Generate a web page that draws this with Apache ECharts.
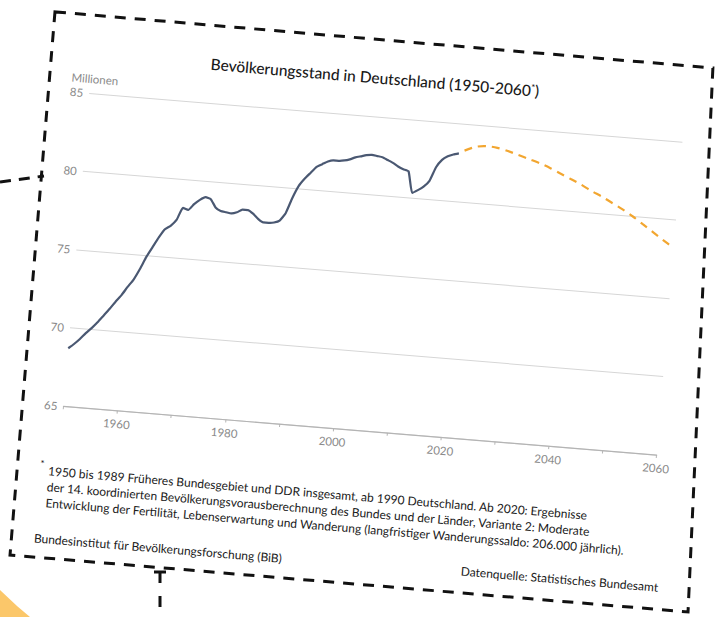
<!DOCTYPE html>
<html>
<head>
<meta charset="utf-8">
<script src="https://cdn.jsdelivr.net/npm/echarts@6/dist/echarts.min.js"></script>
<style>
  html, body { margin: 0; padding: 0; background: #ffffff; overflow: hidden; }
  #deco { position: absolute; left: 0; top: 0; width: 723px; height: 617px; }
  #wrap { position: absolute; left: 0; top: 0; width: 723px; height: 617px;
          transform: rotate(4.7deg); transform-origin: 361.5px 308.5px; }
</style>
</head>
<body>
<svg id="deco" width="723" height="617" xmlns="http://www.w3.org/2000/svg">
  <polygon points="0,590 17,606 30,617 0,617" fill="#fbc76a"/>
  <line x1="0" y1="182" x2="44" y2="176" stroke="#111" stroke-width="3" stroke-dasharray="11 8"/>
  <line x1="160" y1="572" x2="160" y2="617" stroke="#111" stroke-width="3" stroke-dasharray="11 13"/>
  <line x1="154" y1="572" x2="166" y2="572" stroke="#111" stroke-width="3"/>
</svg>
<div id="wrap"></div>
<script>
// ---- data ----
const histYears = [1950,1951,1952,1953,1954,1955,1956,1957,1958,1959,
  1960,1961,1962,1963,1964,1965,1966,1967,1968,1969,
  1970,1971,1972,1973,1974,1975,1976,1977,1978,1979,
  1980,1981,1982,1983,1984,1985,1986,1987,1988,1989,
  1990,1991,1992,1993,1994,1995,1996,1997,1998,1999,
  2000,2001,2002,2003,2004,2005,2006,2007,2008,2009,
  2010,2011,2012,2013,2014,2015,2016,2017,2018,2019];
const histValues = [68.7,69.0,69.35,69.75,70.1,70.5,70.95,71.4,71.9,72.35,
  72.9,73.4,74.1,74.9,75.55,76.2,76.75,77.0,77.4,78.2,
  78.1,78.5,78.8,79.0,78.9,78.4,78.2,78.15,78.1,78.2,
  78.4,78.4,78.2,77.9,77.7,77.7,77.75,77.9,78.4,79.4,
  80.2,80.7,81.1,81.5,81.7,81.9,82.0,82.0,82.05,82.15,
  82.3,82.4,82.5,82.55,82.5,82.45,82.3,82.15,81.95,81.8,
  81.7,80.35,80.55,80.8,81.2,82.1,82.6,82.85,83.0,83.1];
const projYears = [2020,2022,2024,2026,2028,2030,2032,2034,2036,2038,2040,
  2042,2044,2046,2048,2050,2052,2054,2056,2058,2060];
const projValues = [83.3,83.6,83.7,83.65,83.5,83.3,83.1,82.9,82.65,82.35,82.05,
  81.75,81.4,81.1,80.75,80.4,80.0,79.55,79.1,78.65,78.2];
const yTicks = [65,70,75,80,85];
const xLabelYears = [1960,1980,2000,2020,2040,2060];

const titleText = 'Bevölkerungsstand in Deutschland (1950-2060';
const unitText = 'Millionen';
const noteLines = [
  '1950 bis 1989 Früheres Bundesgebiet und DDR insgesamt, ab 1990 Deutschland. Ab 2020: Ergebnisse',
  'der 14. koordinierten Bevölkerungsvorausberechnung des Bundes und der Länder, Variante 2: Moderate',
  'Entwicklung der Fertilität, Lebenserwartung und Wanderung (langfristiger Wanderungssaldo: 206.000 jährlich).'
];
const instText = 'Bundesinstitut für Bevölkerungsforschung (BiB)';
const sourceText = 'Datenquelle: Statistisches Bundesamt';

const FONT = 'Lato';
const chart = echarts.init(document.getElementById('wrap'), null, {renderer: 'svg', width: 723, height: 617});

const graphics = [
  { type: 'polygon', silent: true,
    shape: { points: [[31.7,38],[692,40],[711.8,584.2],[31.4,583],[31.7,38]] },
    style: { fill: 'none', stroke: '#111', lineWidth: 3, lineDash: [11, 9] } },
  { type: 'text', x: 356, y: 77,
    style: { text: '{t|' + titleText + '}{s|*}{t|)}', align: 'center', verticalAlign: 'middle',
      rich: { t: { fontFamily: FONT, fontSize: 15.5, fontWeight: 500, fill: '#1a1a1a' },
              s: { fontFamily: FONT, fontSize: 10, fill: '#1a1a1a', verticalAlign: 'top', padding: [0,0,6,0] } } } },
  { type: 'text', x: 53.5, y: 101.5,
    style: { text: unitText, fontFamily: FONT, fontSize: 11.5, fill: '#8a8a8a', verticalAlign: 'middle' } },
  { type: 'text', x: 54, y: 489,
    style: { text: '*', fontFamily: FONT, fontSize: 10, fill: '#1a1a1a', verticalAlign: 'middle' } },
  { type: 'text', x: 53.9, y: 564,
    style: { text: instText, fontFamily: FONT, fontSize: 12, fill: '#1a1a1a', verticalAlign: 'middle' } },
  { type: 'text', x: 680, y: 562,
    style: { text: sourceText, fontFamily: FONT, fontSize: 12, fill: '#1a1a1a', align: 'right', verticalAlign: 'middle' } }
];
noteLines.forEach((t, i) => {
  graphics.push({ type: 'text', x: 62.5, y: 496 + i * 16,
    style: { text: t, fontFamily: FONT, fontSize: 12, fill: '#1a1a1a', verticalAlign: 'middle' } });
});

chart.setOption({
  animation: false,
  backgroundColor: 'transparent',
  grid: { left: 72.5, top: 116, width: 595.2, height: 314.3, containLabel: false },
  xAxis: {
    type: 'value', min: 1950, max: 2060, interval: 10,
    axisLine: { show: true, lineStyle: { color: '#b4b4b4', width: 1.2 } },
    axisTick: { show: true, length: 3, lineStyle: { color: '#b4b4b4' } },
    axisLabel: { color: '#8a8a8a', fontFamily: FONT, fontSize: 11.5, margin: 7,
      formatter: v => xLabelYears.indexOf(v) >= 0 ? String(v) : '' },
    splitLine: { show: false }
  },
  yAxis: {
    type: 'value', min: yTicks[0], max: yTicks[yTicks.length - 1], interval: 5,
    axisLine: { show: false }, axisTick: { show: false },
    axisLabel: { color: '#8a8a8a', fontFamily: FONT, fontSize: 11.5, margin: 6 },
    splitLine: { show: true, lineStyle: { color: '#d6d6d6', width: 1 } }
  },
  series: [
    { type: 'line', name: 'Bevölkerung', symbol: 'none', smooth: 0.15,
      data: histYears.map((y, i) => [y, histValues[i]]),
      lineStyle: { color: '#4a5872', width: 2.2 } },
    { type: 'line', name: 'Vorausberechnung', symbol: 'none', smooth: 0.3,
      data: projYears.map((y, i) => [y, projValues[i]]),
      lineStyle: { color: '#f2a630', width: 2.2, type: [8, 6] } }
  ],
  graphic: graphics
});
</script>
</body>
</html>
